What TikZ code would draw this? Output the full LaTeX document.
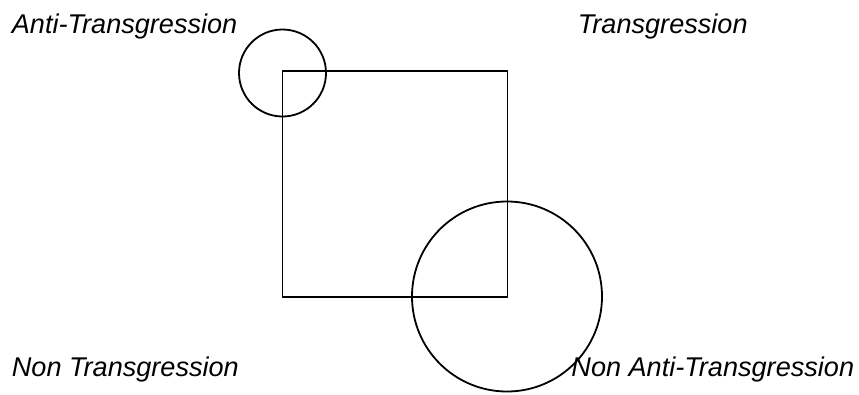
\documentclass[tikz,border=0pt]{standalone}
\usepackage{fontspec}
\setmainfont{Liberation Sans}
\begin{document}
\begin{tikzpicture}[x=1pt,y=-1pt, line join=round, line width=1.8pt,
  lab/.style={anchor=base west, inner sep=0pt, font=\fontsize{27.1}{30}\selectfont\itshape}]
\useasboundingbox (0,0) rectangle (859,394);
\coordinate (A) at (282.5,71);
\coordinate (B) at (507.5,71);
\coordinate (C) at (507.5,297);
\coordinate (D) at (282.5,297);
\draw (A)--(B)--(C)--(D)--cycle;
\draw (282.5,73) circle (43.5);
\draw (507,296.5) circle (95);
\node[lab] (AT) at (11,33) {Anti-Transgression};
\node[lab] (T) at (577,33) {Transgression};
\node[lab] (NT) at (11,376) {Non Transgression};
\node[lab, anchor=base east] (NAT) at (855,376) {Non Anti-Transgression};
\end{tikzpicture}
\end{document}
